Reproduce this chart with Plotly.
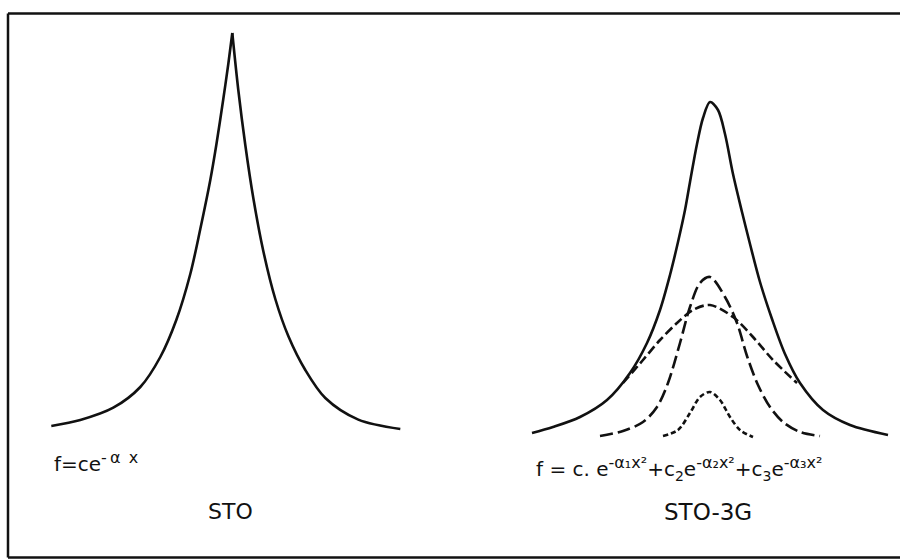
import plotly.graph_objects as go

# ---- data (x: distance from nucleus, y: amplitude; arbitrary units) ----
sto_left_x = [-1.81, -1.52, -1.19, -0.92, -0.72, -0.56, -0.42, -0.32, -0.22, -0.16, -0.09, -0.04, 0.0]
sto_left_y = [0.06, 0.12, 0.243, 0.45, 0.75, 1.12, 1.58, 2.03, 2.52, 2.87, 3.33, 3.68, 3.99]
sto_right_x = [0.0, 0.06, 0.13, 0.21, 0.31, 0.43, 0.56, 0.73, 0.93, 1.26, 1.68]
sto_right_y = [3.99, 3.42, 2.87, 2.34, 1.81, 1.33, 0.96, 0.62, 0.34, 0.124, 0.03]

sto3g_x = [-1.78, -1.57, -1.30, -1.03, -0.80, -0.63, -0.50, -0.40, -0.32, -0.25, -0.20, -0.13, -0.07,
           0.0, 0.08, 0.15, 0.23, 0.32, 0.40, 0.50, 0.62, 0.75, 0.90, 1.13, 1.40, 1.78]
sto3g_y = [-0.01, 0.05, 0.15, 0.32, 0.59, 0.89, 1.22, 1.57, 1.90, 2.22, 2.50, 2.88, 3.14,
           3.30, 3.22, 2.98, 2.58, 2.20, 1.88, 1.50, 1.13, 0.78, 0.49, 0.22, 0.07, -0.03]

g1_x = [-1.10, -0.87, -0.67, -0.53, -0.42, -0.30, -0.20, -0.10, 0.0, 0.15, 0.27, 0.37, 0.48, 0.60, 0.73, 0.90, 1.10]
g1_y = [-0.04, 0.01, 0.10, 0.25, 0.49, 0.89, 1.25, 1.49, 1.55, 1.35, 1.09, 0.76, 0.47, 0.25, 0.10, 0.00, -0.04]

g2_x = [-0.87, -0.67, -0.50, -0.33, -0.17, 0.0, 0.23, 0.43, 0.63, 0.87]
g2_y = [0.49, 0.72, 0.92, 1.09, 1.22, 1.27, 1.15, 0.95, 0.72, 0.49]

g3_x = [-0.47, -0.32, -0.20, -0.10, 0.0, 0.10, 0.20, 0.30, 0.43]
g3_y = [-0.04, 0.02, 0.19, 0.35, 0.40, 0.32, 0.15, 0.02, -0.05]

SUP = '<sup><span style="font-size:16px">{}</span></sup>'
left_formula = "f=ce" + SUP.format("-\u2009α\u2002x")
right_formula = ("f = c. e" + SUP.format("-α₁x²") + "+c<sub>2</sub>e" + SUP.format("-α₂x²")
                 + "+c<sub>3</sub>e" + SUP.format("-α₃x²"))
left_title = "STO"
right_title = "STO-3G"

INK = "#111111"
FONT = "DejaVu Sans"

fig = go.Figure()


def curve(x, y, axis, dash="solid", width=2.6):
    fig.add_trace(go.Scatter(
        x=x, y=y, mode="lines", xaxis=axis, yaxis="y",
        line=dict(color=INK, width=width, dash=dash, shape="spline", smoothing=0.9),
        hoverinfo="skip", showlegend=False))


curve(sto_left_x, sto_left_y, "x")
curve(sto_right_x, sto_right_y, "x")
curve(sto3g_x, sto3g_y, "x2")
curve(g1_x, g1_y, "x2", dash="13px,5px")
curve(g2_x, g2_y, "x2", dash="9px,4px")
curve(g3_x, g3_y, "x2", dash="5px,3px")

annotations = [
    dict(text=left_formula, x=-1.80, y=-0.30, xref="x", yref="y", xanchor="left", yanchor="middle",
         showarrow=False, font=dict(family=FONT, size=20, color=INK)),
    dict(text=left_title, x=-0.02, y=-0.79, xref="x", yref="y", xanchor="center", yanchor="middle",
         showarrow=False, font=dict(family=FONT, size=22, color=INK)),
    dict(text=right_formula, x=-1.76, y=-0.36, xref="x2", yref="y", xanchor="left", yanchor="middle",
         showarrow=False, font=dict(family=FONT, size=20, color=INK)),
    dict(text=right_title, x=-0.025, y=-0.80, xref="x2", yref="y", xanchor="center", yanchor="middle",
         showarrow=False, font=dict(family=FONT, size=23, color=INK)),
]

frame = dict(color=INK, width=2.5)
fig.update_layout(
    width=900, height=559,
    margin=dict(l=0, r=0, t=0, b=0),
    paper_bgcolor="white", plot_bgcolor="white",
    showlegend=False,
    xaxis=dict(domain=[0, 0.5], range=[-2.323, 2.177], visible=False, fixedrange=True),
    xaxis2=dict(domain=[0.5, 1], range=[-2.60, 1.90], visible=False, anchor="y", fixedrange=True),
    yaxis=dict(domain=[0, 1], range=[-1.27, 4.32], visible=False, fixedrange=True),
    annotations=annotations,
    shapes=[
        dict(type="line", xref="paper", yref="paper", x0=8 / 900, x1=8 / 900,
             y0=1 - 557.5 / 559, y1=1 - 13.5 / 559, line=frame),
        dict(type="line", xref="paper", yref="paper", x0=8 / 900, x1=1.0,
             y0=1 - 13.5 / 559, y1=1 - 13.5 / 559, line=frame),
        dict(type="line", xref="paper", yref="paper", x0=8 / 900, x1=1.0,
             y0=1 - 557.5 / 559, y1=1 - 557.5 / 559, line=frame),
    ],
)

fig.write_html("out.html", config={"displayModeBar": False, "staticPlot": True},
               post_script="document.body.style.margin='0';document.body.style.overflow='hidden';")
